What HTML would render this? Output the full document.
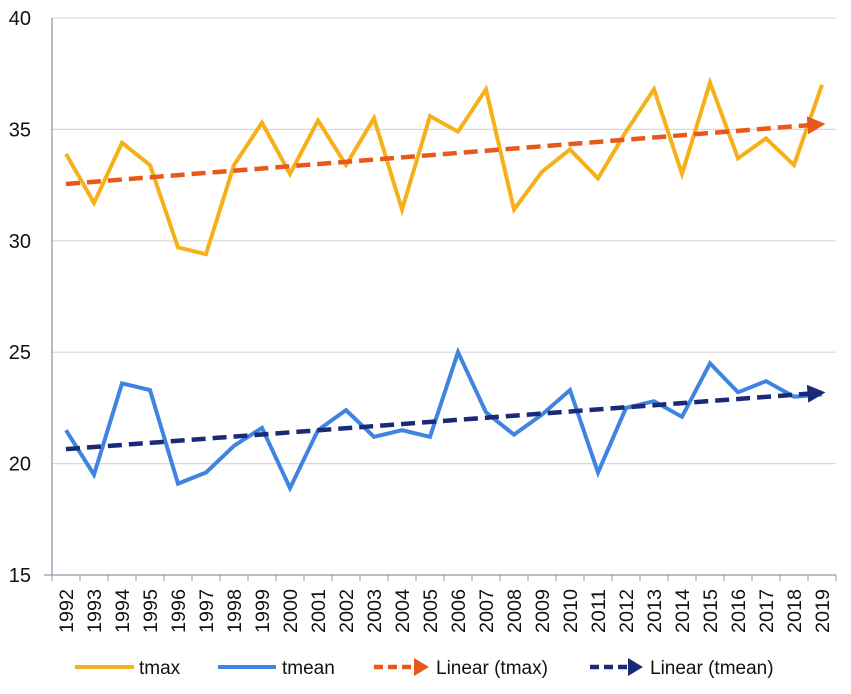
<!DOCTYPE html>
<html><head><meta charset="utf-8"><style>body{margin:0;background:#fff}svg{display:block}</style></head>
<body>
<svg id="s" width="851" height="694" xmlns="http://www.w3.org/2000/svg" font-family="Liberation Sans, sans-serif"></svg>
<script>
const s=document.getElementById('s');
const Y=v=>18+(40-v)*22.28, X=i=>66+28*i;
let h='<defs><marker id="ao" markerWidth="4" markerHeight="4" refX="1" refY="2" orient="auto" markerUnits="strokeWidth"><path d="M0,0L4,2L0,4z" fill="#e9581b"/></marker><marker id="an" markerWidth="4" markerHeight="4" refX="1" refY="2" orient="auto" markerUnits="strokeWidth"><path d="M0,0L4,2L0,4z" fill="#1a2a78"/></marker></defs>';
for(const v of [20,25,30,35,40]) h+=`<line x1="52" x2="836" y1="${Y(v)}" y2="${Y(v)}" stroke="#d9d9d9" stroke-width="1.2"/>`;
for(const v of [15,20,25,30,35,40]) h+=`<text x="31" y="${Y(v)+7}" font-size="20" text-anchor="end" fill="#111">${v}</text>`;
h+=`<line x1="52" x2="52" y1="18" y2="575" stroke="#8c99a6" stroke-width="1.3"/><line x1="44" x2="836" y1="575" y2="575" stroke="#8c99a6" stroke-width="1.3"/>`;
for(let i=0;i<=28;i++) h+=`<line x1="${52+28*i}" x2="${52+28*i}" y1="575" y2="581" stroke="#8c99a6"/>`;
for(let i=0;i<28;i++) h+=`<text transform="translate(${X(i)+7},633) rotate(-90)" font-size="19" textLength="44" lengthAdjust="spacingAndGlyphs" fill="#111">${1992+i}</text>`;
const tmax=[33.9,31.7,34.4,33.4,29.7,29.4,33.4,35.3,33.0,35.4,33.4,35.5,31.4,35.6,34.9,36.8,31.4,33.1,34.1,32.8,34.9,36.8,33.0,37.1,33.7,34.6,33.4,37.0];
const tmean=[21.5,19.5,23.6,23.3,19.1,19.6,20.8,21.6,18.9,21.5,22.4,21.2,21.5,21.2,25.0,22.3,21.3,22.2,23.3,19.6,22.5,22.8,22.1,24.5,23.2,23.7,23.0,23.1];
const pl=(d,c)=>`<polyline fill="none" stroke="${c}" stroke-width="4" stroke-linejoin="miter" points="${d.map((v,i)=>X(i)+','+Y(v)).join(' ')}"/>`;
h+=pl(tmax,'#f5b01a')+pl(tmean,'#3f84e0');
h+=`<line x1="${X(0)}" y1="${Y(32.55)}" x2="${X(27)-10}" y2="${Y(35.2)}" stroke="#e9581b" stroke-width="4.5" stroke-dasharray="14,7" marker-end="url(#ao)"/>`;
h+=`<line x1="${X(0)}" y1="${Y(20.65)}" x2="${X(27)-10}" y2="${Y(23.15)}" stroke="#1a2a78" stroke-width="4.5" stroke-dasharray="14,7" marker-end="url(#an)"/>`;
h+=`<line x1="75" x2="134" y1="667" y2="667" stroke="#f5b01a" stroke-width="4"/><text x="139" y="674" font-size="19" fill="#111">tmax</text>`;
h+=`<line x1="218" x2="276" y1="667" y2="667" stroke="#3f84e0" stroke-width="4"/><text x="282" y="674" font-size="19" fill="#111">tmean</text>`;
h+=`<line x1="374" x2="414" y1="667" y2="667" stroke="#e9581b" stroke-width="4.5" stroke-dasharray="9,5"/><path d="M414,658L429,667L414,676z" fill="#e9581b"/><text x="436" y="674" font-size="19" fill="#111">Linear (tmax)</text>`;
h+=`<line x1="590" x2="628" y1="667" y2="667" stroke="#1a2a78" stroke-width="4.5" stroke-dasharray="9,5"/><path d="M628,658L643,667L628,676z" fill="#1a2a78"/><text x="650" y="674" font-size="19" fill="#111">Linear (tmean)</text>`;
s.innerHTML=h;
</script>
</body></html>
